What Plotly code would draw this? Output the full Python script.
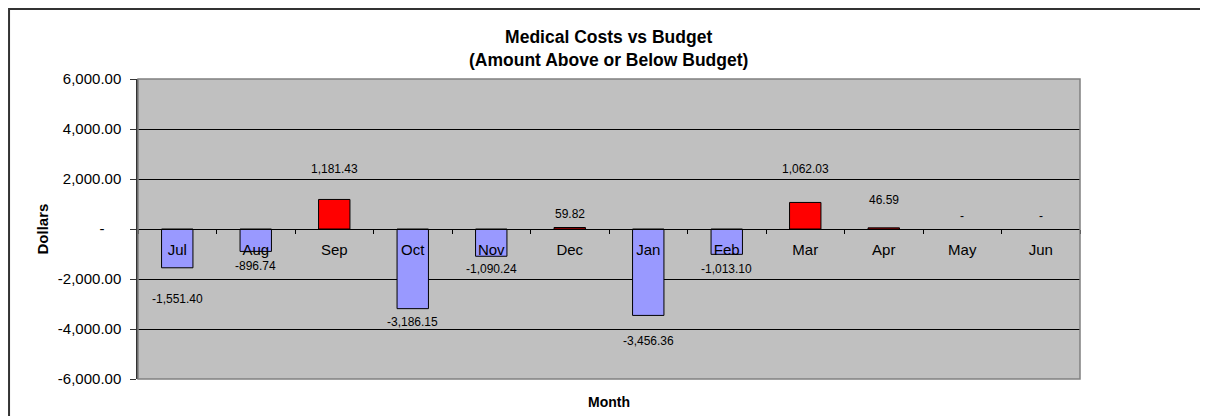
import plotly.graph_objs as go

months = ['Jul', 'Aug', 'Sep', 'Oct', 'Nov', 'Dec', 'Jan', 'Feb', 'Mar', 'Apr', 'May', 'Jun']
above_below = [-1551.40, -896.74, 1181.43, -3186.15, -1090.24, 59.82, -3456.36, -1013.10, 1062.03, 46.59, 0, 0]
y_ticks = [-6000, -4000, -2000, 0, 2000, 4000, 6000]
y_tick_text = ['-6,000.00', '-4,000.00', '-2,000.00', '-' + '\u00a0' * 4, '2,000.00', '4,000.00', '6,000.00']

# Excel put the data labels at slightly uneven distances from the bar ends
label_shift = [-31, -15, 30, -13, -13, 14, -26, -15, 33, 28, 13, 13]

FONT = 'Liberation Sans, Arial, sans-serif'


def fmt(v):
    if v == 0:
        return '-'
    return f'{v:,.2f}'


bar_colors = ['#FF0000' if v > 0 else '#9999FF' for v in above_below]
bar_edges = [1 if v != 0 else 0 for v in above_below]

fig = go.Figure()
fig.add_trace(go.Bar(
    x=months,
    y=above_below,
    marker=dict(color=bar_colors, line=dict(color='black', width=bar_edges)),
    width=0.4,
    hoverinfo='x+y',
))

for m, v, s in zip(months, above_below, label_shift):
    fig.add_annotation(
        x=m, y=v, text=fmt(v), showarrow=False, yshift=s,
        font=dict(family=FONT, size=12, color='black'),
    )

# chart title
fig.add_annotation(
    xref='paper', yref='paper', x=0.499, y=1.103,
    text='<b>Medical Costs vs Budget</b><br><b>(Amount Above or Below Budget)</b>',
    showarrow=False, font=dict(family=FONT, size=17.5, color='black'),
    xanchor='center', yanchor='middle',
)

# axis titles
fig.add_annotation(
    xref='paper', yref='paper', x=0.5, y=-0.0767, text='<b>Month</b>',
    showarrow=False, font=dict(family=FONT, size=14, color='black'),
    xanchor='center', yanchor='middle',
)
fig.add_annotation(
    xref='paper', yref='paper', x=-0.1014, y=0.5, text='<b>Dollars</b>',
    showarrow=False, textangle=-90, font=dict(family=FONT, size=15, color='black'),
    xanchor='center', yanchor='middle',
)

# plot area border and outer chart border
fig.add_shape(type='rect', xref='paper', yref='paper', x0=0, y0=0, x1=1, y1=1,
              line=dict(color='#808080', width=1.5), layer='above')
fig.add_shape(type='rect', xref='paper', yref='paper', x0=-0.1369, y0=-0.2, x1=1.2, y1=1.2333,
              line=dict(color='#333333', width=2))

fig.update_layout(
    width=1208, height=416,
    margin=dict(l=130, r=136, t=71, b=45),
    paper_bgcolor='white',
    plot_bgcolor='#C0C0C0',
    showlegend=False,
    font=dict(family=FONT, color='black'),
    xaxis=dict(
        anchor='free', position=0.5,
        showline=True, linecolor='black', linewidth=1,
        ticks='outside', ticklen=4, tickcolor='black', tickson='boundaries',
        ticklabelstandoff=7,
        tickfont=dict(family=FONT, size=15, color='black'),
        showgrid=False, zeroline=False,
    ),
    yaxis=dict(
        range=[-6000, 6000],
        tickvals=y_ticks, ticktext=y_tick_text,
        tickfont=dict(family=FONT, size=15, color='black'),
        ticks='outside', ticklen=6, tickcolor='#333333',
        ticklabelstandoff=6,
        showline=True, linecolor='#333333', linewidth=1.5,
        showgrid=True, gridcolor='black', gridwidth=1,
        zeroline=True, zerolinecolor='black', zerolinewidth=1,
    ),
)

fig.write_html('out.html')
